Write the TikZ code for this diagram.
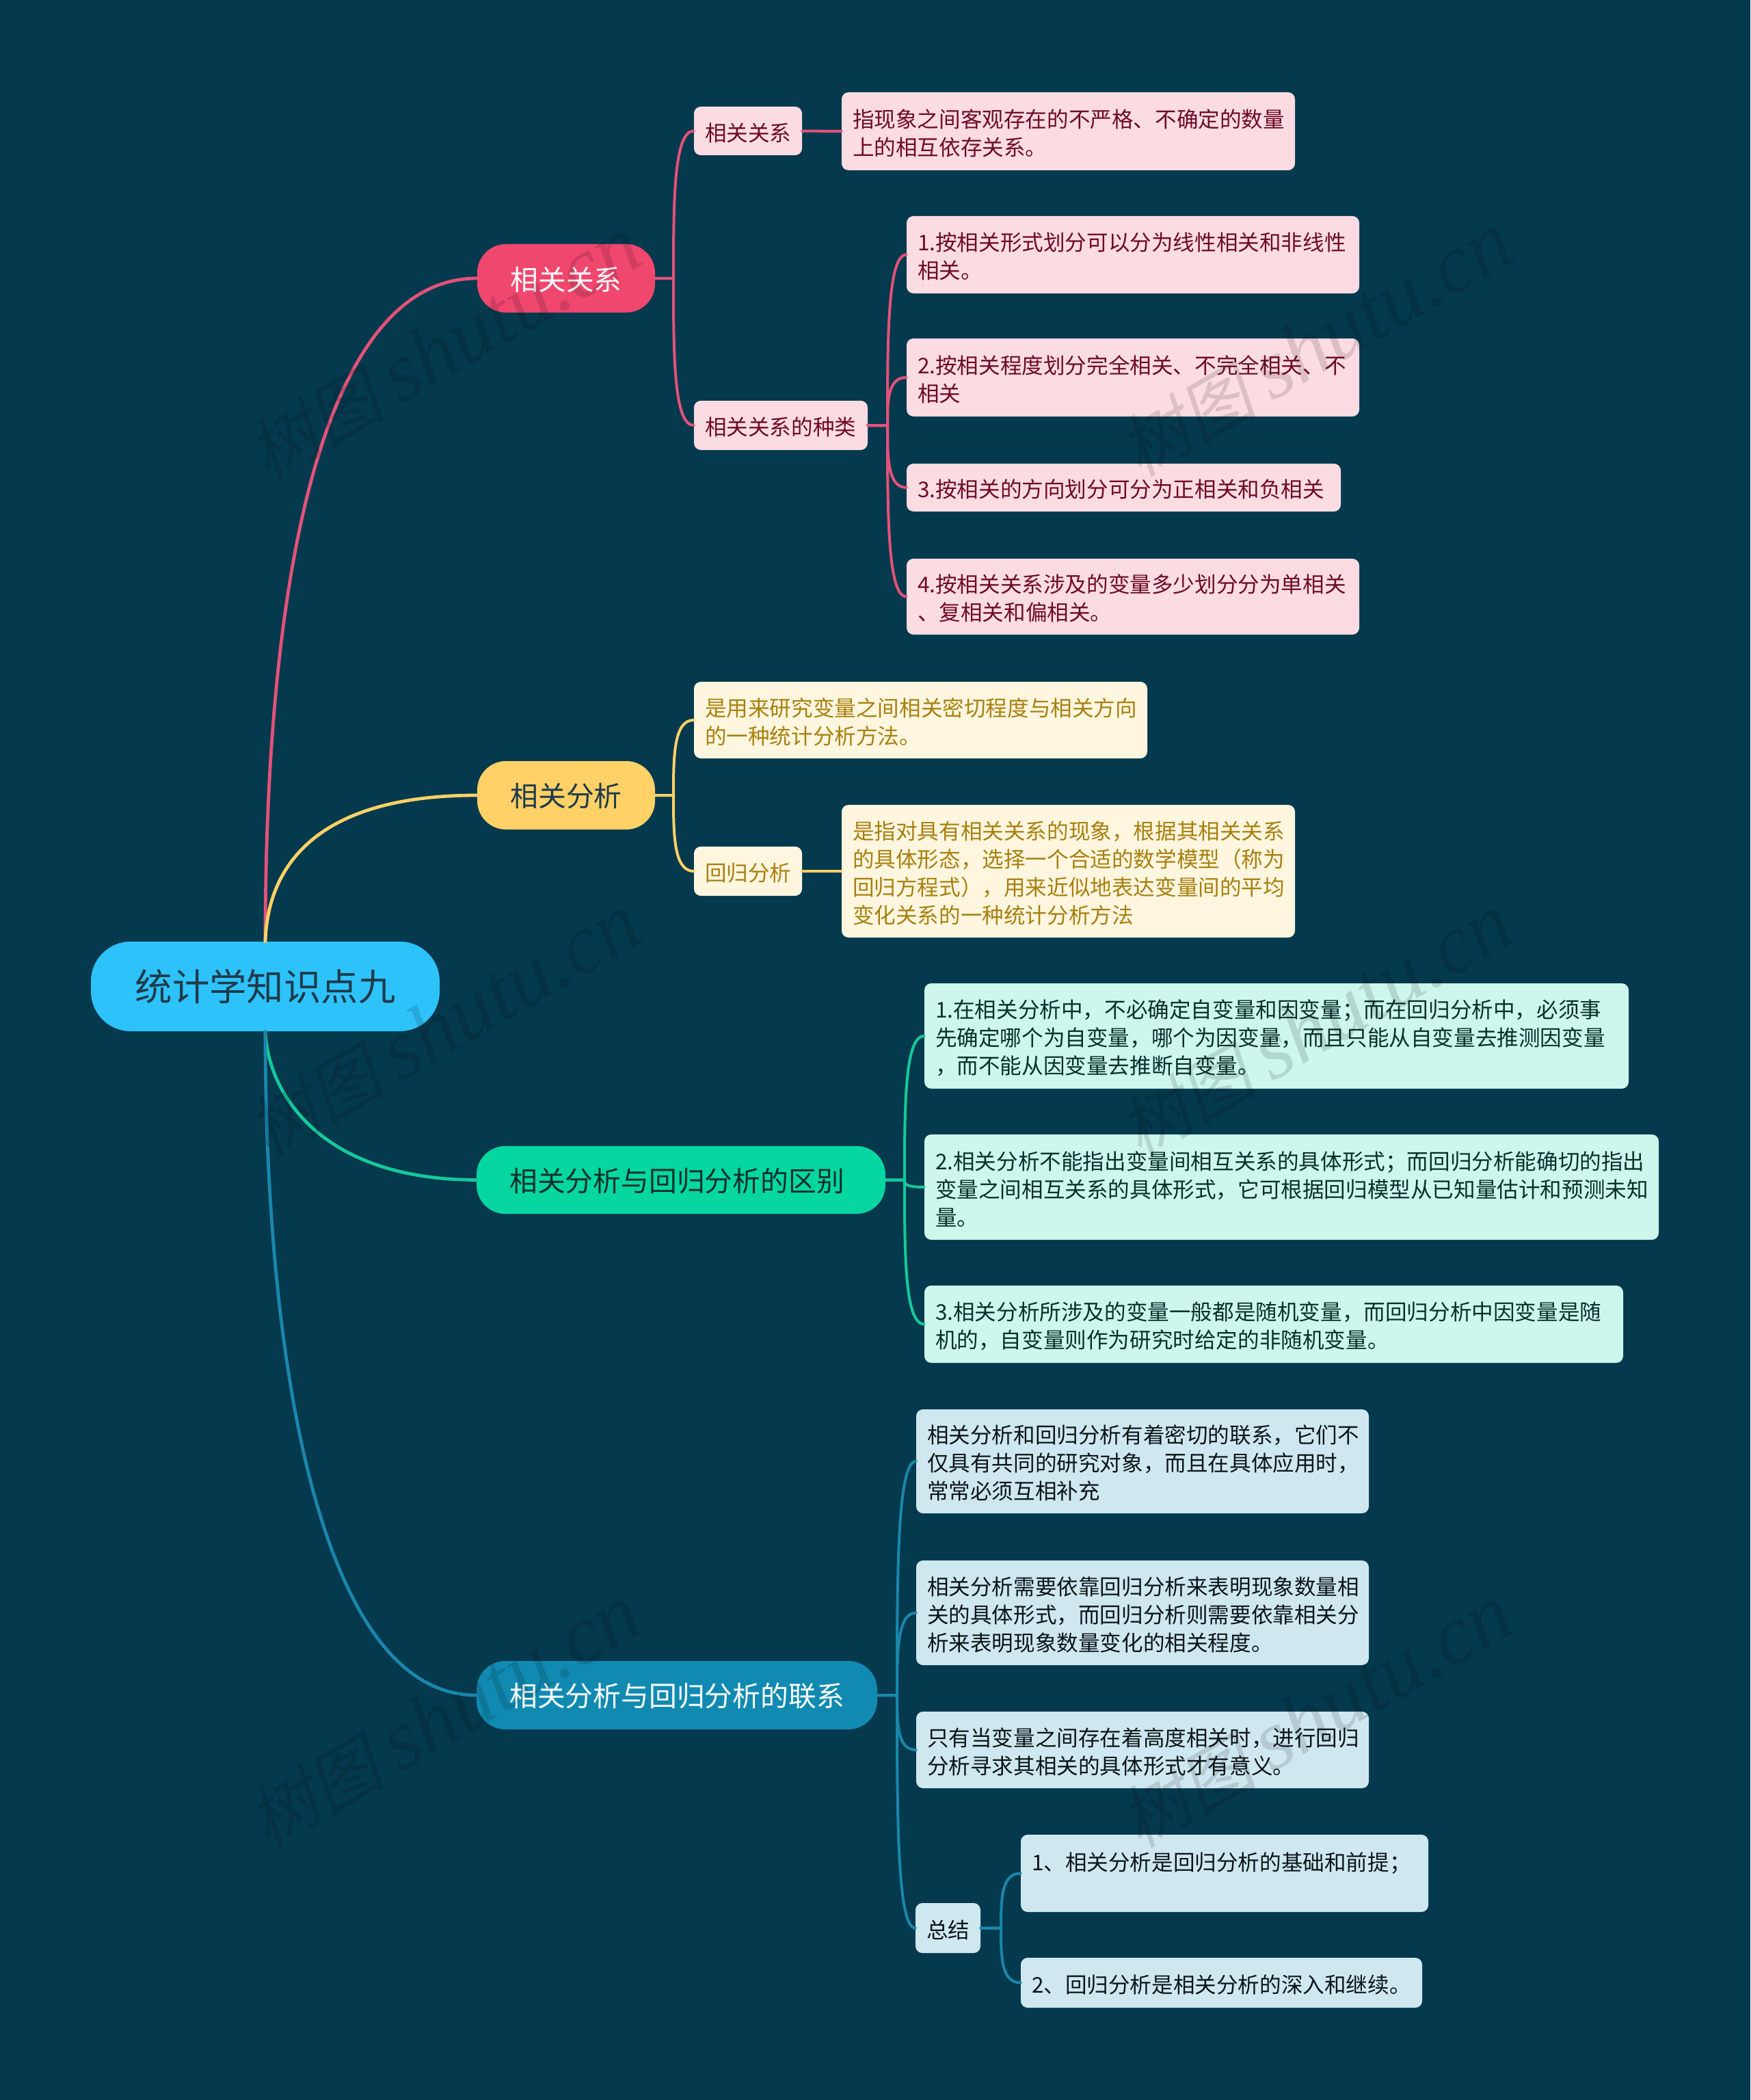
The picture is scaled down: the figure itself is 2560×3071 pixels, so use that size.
\documentclass[tikz,border=0pt]{standalone}
\usepackage{fontspec}
\usepackage{tikz}
\usetikzlibrary{calc}
\setmainfont{Noto Sans CJK SC}
\newfontfamily\wmfont[FakeSlant=0.2]{Noto Sans CJK SC}
\newfontfamily\wmlat{Liberation Serif}
\definecolor{bgc}{HTML}{05394D}
\definecolor{pinkn}{HTML}{F0476F}
\definecolor{pinkl}{HTML}{E3527A}
\definecolor{pinkf}{HTML}{FCDCE3}
\definecolor{pinkt}{HTML}{6E0A24}
\definecolor{yeln}{HTML}{FFD166}
\definecolor{yelf}{HTML}{FFF6DF}
\definecolor{yelt}{HTML}{A8800F}
\definecolor{grnn}{HTML}{06D6A0}
\definecolor{grnl}{HTML}{14C99B}
\definecolor{grnf}{HTML}{CDF7EC}
\definecolor{grnt}{HTML}{06302A}
\definecolor{blun}{HTML}{118AB2}
\definecolor{blul}{HTML}{1A86AC}
\definecolor{bluf}{HTML}{CFE8F0}
\definecolor{blut}{HTML}{0B1519}
\definecolor{rootc}{HTML}{2DC3FA}
\definecolor{roott}{HTML}{1F3A4A}
\tikzset{
  x=0.5pt, y=-0.5pt,
  boxbase/.style={rectangle, inner sep=0pt, align=left, font=\fontsize{15.8}{20.5}\selectfont},
  leafbox/.style={boxbase, rounded corners=5pt},
  pinkbox/.style={leafbox, fill=pinkf, text=pinkt},
  yelbox/.style={leafbox, fill=yelf, text=yelt},
  grnbox/.style={leafbox, fill=grnf, text=grnt},
  blubox/.style={leafbox, fill=bluf, text=blut},
  branchbox/.style={rectangle, inner sep=0pt, rounded corners=21pt, font=\fontsize{20.4}{24}\selectfont},
  rootbox/.style={rectangle, inner sep=0pt, rounded corners=29pt, font=\fontsize{27.2}{32}\selectfont, fill=rootc, text=roott},
  mainline/.style={line width=2.4pt, line cap=round},
  subline/.style={line width=2pt, line cap=round},
  wmark/.style={font=\wmfont\fontsize{50}{50}\selectfont, text=black, opacity=0.13, rotate=30, inner sep=0pt}
}
% \lf{style}{name}{l}{t}{r}{b}{text}
\newcommand{\lf}[7]{%
  \pgfmathsetmacro{\wdd}{(#5-#3)*0.5}\pgfmathsetmacro{\htt}{(#6-#4)*0.5}\pgfmathsetmacro{\twd}{(#5-#3-32)*0.5}%
  \node[#1, minimum width=\wdd pt, minimum height=\htt pt, text width=\twd pt] (#2) at ({(#3+#5)/2},{(#4+#6)/2}) {\rule{0pt}{16pt}#7};}
% \br{style}{name}{l}{t}{r}{b}{text}
\newcommand{\br}[7]{%
  \pgfmathsetmacro{\wdd}{(#5-#3)*0.5}\pgfmathsetmacro{\htt}{(#6-#4)*0.5}%
  \node[#1, minimum width=\wdd pt, minimum height=\htt pt] (#2) at ({(#3+#5)/2},{(#4+#6)/2}) {\vbox{\kern1.5pt\hbox{#7}}};}
% \cn{colour}{from}{to}{bus x}
\newcommand{\cn}[4]{%
  \coordinate (busp) at (#4,0);
  \draw[subline, #1] (#2.east) -- (#2.east -| busp) .. controls ($(#2.east -| busp)!0.5!(#3.west -| busp)$) and (#3.west -| busp) .. (#3.west);}
\newcommand{\wmtext}{树图 {\wmlat\itshape\fontsize{62}{62}\selectfont shutu.cn}}
\begin{document}
\begin{tikzpicture}
\useasboundingbox (0,0) rectangle (2560,3071);
\fill[bgc] (0,0) rectangle (2560,3071);

% nodes
\node[rootbox, minimum width=255pt, minimum height=65.5pt] (root) at (388,1442.5) {统计学知识点九};
\br{branchbox, fill=pinkn, text=white}{b1}{698}{357}{958}{457}{相关关系}
\br{branchbox, fill=yeln, text=roott}{b2}{698}{1113}{958}{1213}{相关分析}
\br{branchbox, fill=grnn, text=grnt}{b3}{697}{1676}{1295}{1775}{相关分析与回归分析的区别\kern5.9pt}
\br{branchbox, fill=blun, text=white}{b4}{697}{2429}{1283}{2529}{相关分析与回归分析的联系}

\lf{pinkbox}{p1}{1015}{156}{1173}{227}{相关关系}
\lf{pinkbox}{p1a}{1231}{135}{1894}{249}{指现象之间客观存在的不严格、不确定的数量\\上的相互依存关系。}
\lf{pinkbox}{p2}{1015}{586}{1269}{658}{相关关系的种类}
\lf{pinkbox}{p2a}{1326}{316}{1988}{429}{1.按相关形式划分可以分为线性相关和非线性\\相关。}
\lf{pinkbox}{p2b}{1326}{495}{1988}{609}{2.按相关程度划分完全相关、不完全相关、不\\相关}
\lf{pinkbox}{p2c}{1326}{678}{1961}{748}{3.按相关的方向划分可分为正相关和负相关}
\lf{pinkbox}{p2d}{1326}{817}{1988}{928}{4.按相关关系涉及的变量多少划分分为单相关\\、复相关和偏相关。}

\lf{yelbox}{y1}{1015}{997}{1678}{1109}{是用来研究变量之间相关密切程度与相关方向\\的一种统计分析方法。}
\lf{yelbox}{y2}{1015}{1238}{1173}{1310}{回归分析}
\lf{yelbox}{y2a}{1231}{1177}{1894}{1371}{是指对具有相关关系的现象，根据其相关关系\\的具体形态，选择一个合适的数学模型（称为\\回归方程式），用来近似地表达变量间的平均\\变化关系的一种统计分析方法}

\lf{grnbox}{g1}{1352}{1438}{2382}{1592}{1.在相关分析中，不必确定自变量和因变量；而在回归分析中，必须事\\先确定哪个为自变量，哪个为因变量，而且只能从自变量去推测因变量\\，而不能从因变量去推断自变量。}
\lf{grnbox}{g2}{1352}{1659}{2426}{1813}{2.相关分析不能指出变量间相互关系的具体形式；而回归分析能确切的指出\\变量之间相互关系的具体形式，它可根据回归模型从已知量估计和预测未知\\量。}
\lf{grnbox}{g3}{1352}{1880}{2374}{1993}{3.相关分析所涉及的变量一般都是随机变量，而回归分析中因变量是随\\机的，自变量则作为研究时给定的非随机变量。}

\lf{blubox}{u1}{1340}{2061}{2002}{2213}{相关分析和回归分析有着密切的联系，它们不\\仅具有共同的研究对象，而且在具体应用时，\\常常必须互相补充}
\lf{blubox}{u2}{1340}{2282}{2002}{2435}{相关分析需要依靠回归分析来表明现象数量相\\关的具体形式，而回归分析则需要依靠相关分\\析来表明现象数量变化的相关程度。}
\lf{blubox}{u3}{1340}{2503}{2002}{2615}{只有当变量之间存在着高度相关时，进行回归\\分析寻求其相关的具体形式才有意义。}
\lf{blubox}{u4}{1339}{2783}{1434}{2856}{总结}
\lf{blubox}{u4a}{1493}{2683}{2089}{2796}{1、相关分析是回归分析的基础和前提；\\\mbox{}}
\lf{blubox}{u4b}{1493}{2863}{2080}{2936}{2、回归分析是相关分析的深入和继续。}

% root connectors
\draw[mainline, pinkl] (root.north) .. controls (388,850) and (470,407) .. (b1.west);
\draw[mainline, yeln] (root.north) .. controls (392,1260) and (470,1163) .. (b2.west);
\draw[mainline, grnl] (root.south) .. controls (392,1600) and (470,1725) .. (b3.west);
\draw[mainline, blul] (root.south) .. controls (388,2000) and (470,2479) .. (b4.west);

% sub connectors
\cn{pinkl}{b1}{p1}{985}
\cn{pinkl}{b1}{p2}{985}
\draw[subline, pinkl] (p1.east) -- (p1a.west);
\cn{pinkl}{p2}{p2a}{1298}
\cn{pinkl}{p2}{p2b}{1298}
\cn{pinkl}{p2}{p2c}{1298}
\cn{pinkl}{p2}{p2d}{1298}
\cn{yeln}{b2}{y1}{985}
\cn{yeln}{b2}{y2}{985}
\draw[subline, yeln] (y2.east) -- (y2a.west);
\cn{grnl}{b3}{g1}{1323}
\cn{grnl}{b3}{g2}{1323}
\cn{grnl}{b3}{g3}{1323}
\cn{blul}{b4}{u1}{1312}
\cn{blul}{b4}{u2}{1312}
\cn{blul}{b4}{u3}{1312}
\cn{blul}{b4}{u4}{1312}
\cn{blul}{u4}{u4a}{1464}
\cn{blul}{u4}{u4b}{1464}

% watermarks
\node[wmark] (wm1) at (650,510) {\wmtext};
\node[wmark] (wm2) at (1925,505) {\wmtext};
\node[wmark] (wm3) at (650,1500) {\wmtext};
\node[wmark] (wm4) at (1925,1500) {\wmtext};
\node[wmark] (wm5) at (650,2510) {\wmtext};
\node[wmark] (wm6) at (1925,2510) {\wmtext};
\end{tikzpicture}
\end{document}
